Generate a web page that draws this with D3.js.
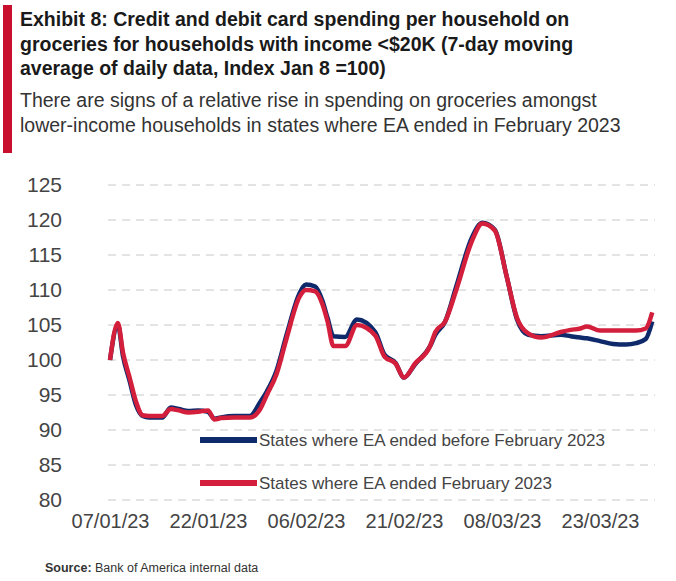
<!DOCTYPE html>
<html><head><meta charset="utf-8">
<script src="https://cdn.jsdelivr.net/npm/d3@7"></script>
<style>body{margin:0;background:#fff}</style>
</head><body><div id="chart"></div>
<script>
// days since 07/01/23
var days = [0,1.2,2,3,4,5,6,8,9.3,10.5,12,13.5,15,16,17,19,21.4,23,24,25.5,27,29,30,31.4,32.5,33.3,34.2,36,37.8,40.6,42,43.7,45,46.7,49,49.8,51.3,53,55.4,57,58.9,60.7,62.3,64,66,69,70.5,72,73,75,77,79,80.5,82,83];
var redVals = [100,105.3,101,97.5,94,92.1,92,92,93,92.8,92.5,92.6,92.8,91.5,91.7,91.8,91.8,93,95,98,103,109,110,109.8,108,105.5,102,102,105,103.5,100.5,99.5,97.5,99.5,102,104,105.5,110,117,119.5,118.5,112,106,103.8,103.2,104,104.3,104.5,104.8,104.2,104.2,104.2,104.2,104.5,106.8];
var blueVals = [100,105,100.5,97,93.5,92,91.8,91.8,93.2,93,92.7,92.8,92.6,91.6,91.8,92,92,94,95.5,98.5,103.5,109.5,110.8,110.5,108.5,106,103.4,103.3,105.8,104,100.8,99.6,97.5,99.4,102,103.6,105.5,110.5,117.5,119.6,118.6,112,105.8,103.6,103.4,103.6,103.4,103.2,103.1,102.7,102.3,102.2,102.4,103,105.5];
var yTicks = [80,85,90,95,100,105,110,115,120,125];
var xTickLabels = ["07/01/23","22/01/23","06/02/23","21/02/23","08/03/23","23/03/23"];
var seriesNames = ["States where EA ended before February 2023","States where EA ended February 2023"];

var W = 676, H = 581;
var svg = d3.select("#chart").append("svg").attr("width", W).attr("height", H);
var font = "'Liberation Sans Narrow', 'Liberation Sans', sans-serif";

// red side bar
svg.append("rect").attr("x", 3).attr("y", 5).attr("width", 9).attr("height", 148).attr("fill", "#c8102e");

var title = ["Exhibit 8: Credit and debit card spending per household on",
             "groceries for households with income <$20K (7-day moving",
             "average of daily data, Index Jan 8 =100)"];
title.forEach(function(t, i) {
  svg.append("text").attr("x", 20).attr("y", 26 + i * 24.5).text(t)
    .style("font-family", font).style("font-weight", "bold").style("font-size", "19.5px").attr("fill", "#1a1a1a");
});
["There are signs of a relative rise in spending on groceries amongst",
 "lower-income households in states where EA ended in February 2023"].forEach(function(t, i) {
  svg.append("text").attr("x", 20).attr("y", 107 + i * 24.5).text(t)
    .style("font-family", font).style("font-size", "19.5px").attr("fill", "#333");
});

var base = new Date(2023, 0, 7);
function dt(d) { return base.getTime() + d * 864e5; }

var x = d3.scaleTime().domain([base, d3.timeDay.offset(base, 75)]).range([110, 600]);
var y = d3.scaleLinear().domain([80, 125]).range([500, 185]);

// gridlines
svg.selectAll(".grid").data(yTicks).enter().append("line")
  .attr("x1", 108).attr("x2", 655).attr("y1", d => y(d)).attr("y2", d => y(d))
  .attr("stroke", "#c8c8c8").attr("stroke-dasharray", "8,6").attr("stroke-width", 1);

svg.selectAll(".yl").data(yTicks).enter().append("text")
  .attr("x", 62).attr("y", d => y(d) + 7).attr("text-anchor", "end").text(d => d)
  .style("font-family", font).style("font-size", "21px").attr("fill", "#444");

var xAxis = d3.axisBottom(x).tickValues(xTickLabels.map((s, i) => d3.timeDay.offset(base, i * 15)))
  .tickFormat((d, i) => xTickLabels[i]).tickSize(0).tickPadding(14);
var gx = svg.append("g").attr("transform", "translate(0,500)").call(xAxis);
gx.select(".domain").remove();
gx.selectAll("text").style("font-family", font).style("font-size", "20px").attr("fill", "#444");

var line = d3.line().x((d, i) => x(new Date(dt(days[i])))).y(d => y(d)).curve(d3.curveMonotoneX);
svg.append("path").datum(blueVals).attr("d", line).attr("fill", "none").attr("stroke", "#0f2a6b").attr("stroke-width", 4.5);
svg.append("path").datum(redVals).attr("d", line).attr("fill", "none").attr("stroke", "#d41f3c").attr("stroke-width", 4.5);

// legend
[["#0f2a6b", 440], ["#d41f3c", 483]].forEach(function(c, i) {
  svg.append("line").attr("x1", 200).attr("x2", 257).attr("y1", c[1]).attr("y2", c[1])
    .attr("stroke", c[0]).attr("stroke-width", 6);
  svg.append("text").attr("x", 259).attr("y", c[1] + 6).text(seriesNames[i])
    .style("font-family", font).style("font-size", "17px").attr("fill", "#444");
});

var src = svg.append("text").attr("x", 45).attr("y", 572).style("font-family", font).style("font-size", "12.5px").attr("fill", "#333");
src.append("tspan").style("font-weight", "bold").text("Source:");
src.append("tspan").text("  Bank of America internal data");
</script></body></html>
